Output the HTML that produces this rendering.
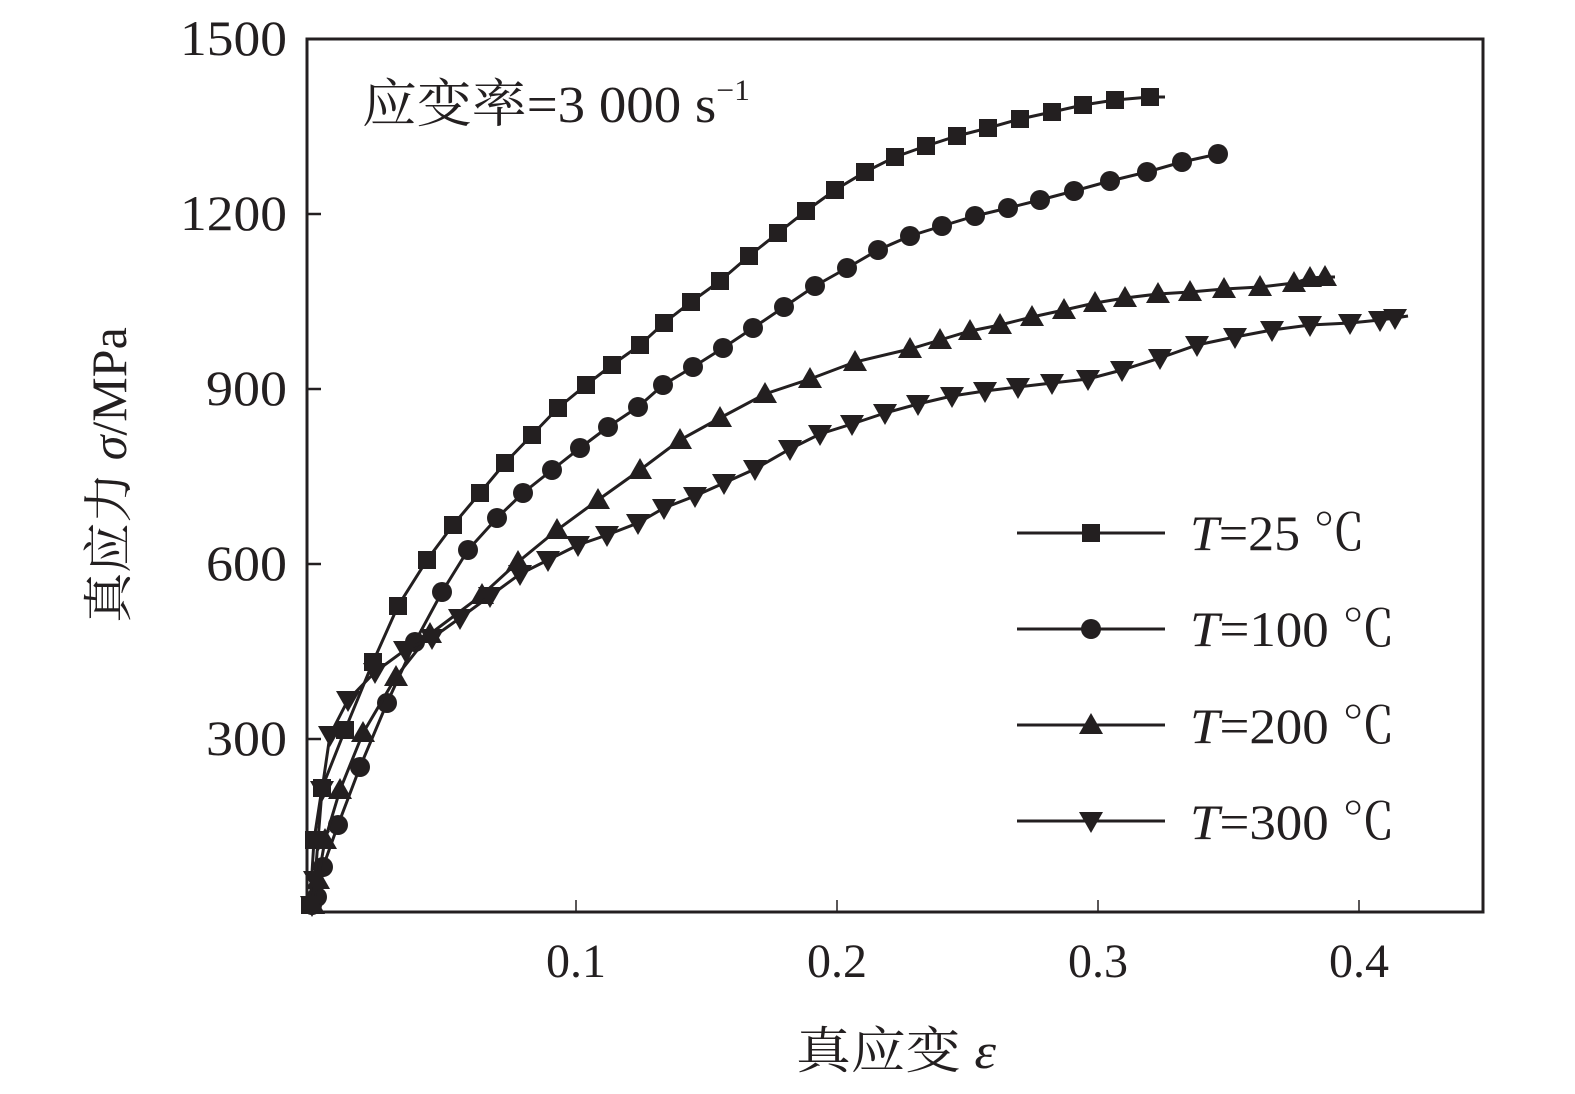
<!DOCTYPE html>
<html><head><meta charset="utf-8"><style>
html,body{margin:0;padding:0;background:#fff;}
svg{display:block;}
text{font-family:"Liberation Serif","Noto Serif CJK SC",serif;fill:#231f20;}
</style></head><body>
<svg id="s" width="1575" height="1094" viewBox="0 0 1575 1094" xmlns="http://www.w3.org/2000/svg">
<rect x="307" y="39" width="1176" height="873" fill="none" stroke="#231f20" stroke-width="3"/>
<g stroke="#231f20" stroke-width="2.5">
<line x1="307" y1="214" x2="321" y2="214"/><line x1="307" y1="389" x2="321" y2="389"/>
<line x1="307" y1="564" x2="321" y2="564"/><line x1="307" y1="739" x2="321" y2="739"/>
</g>
<g stroke="#231f20" stroke-width="1.5">
<line x1="576" y1="912" x2="576" y2="900"/><line x1="837" y1="912" x2="837" y2="900"/>
<line x1="1098" y1="912" x2="1098" y2="900"/><line x1="1359" y1="912" x2="1359" y2="900"/>
</g>
<g font-size="50" lengthAdjust="spacingAndGlyphs">
<text x="180" y="55" textLength="107" lengthAdjust="spacingAndGlyphs">1500</text>
<text x="180" y="230" textLength="107" lengthAdjust="spacingAndGlyphs">1200</text>
<text x="206" y="405" textLength="81" lengthAdjust="spacingAndGlyphs">900</text>
<text x="206" y="580" textLength="81" lengthAdjust="spacingAndGlyphs">600</text>
<text x="206" y="755" textLength="81" lengthAdjust="spacingAndGlyphs">300</text>
</g>
<g font-size="48" text-anchor="middle">
<text x="576" y="977">0.1</text><text x="837" y="977">0.2</text>
<text x="1098" y="977">0.3</text><text x="1359" y="977">0.4</text>
</g>
<text x="796" y="1068" font-size="50" textLength="200" lengthAdjust="spacingAndGlyphs">真应变 <tspan font-style="italic">ε</tspan></text>
<text transform="translate(126,475) rotate(-90)" font-size="50" text-anchor="middle">真应力 <tspan font-style="italic">σ</tspan>/MPa</text>
<text x="362" y="122" font-size="52" textLength="388" lengthAdjust="spacingAndGlyphs">应变率=3 000 s<tspan font-size="30" dy="-22">−1</tspan></text>
<g id="series"></g>
<g id="leg"></g>
<g font-size="50">
<text x="1190" y="550" textLength="175" lengthAdjust="spacingAndGlyphs"><tspan font-style="italic">T</tspan>=25 ℃</text>
<text x="1190" y="646" textLength="205" lengthAdjust="spacingAndGlyphs"><tspan font-style="italic">T</tspan>=100 ℃</text>
<text x="1190" y="743" textLength="205" lengthAdjust="spacingAndGlyphs"><tspan font-style="italic">T</tspan>=200 ℃</text>
<text x="1190" y="839" textLength="205" lengthAdjust="spacingAndGlyphs"><tspan font-style="italic">T</tspan>=300 ℃</text>
</g>
</svg>
<script>
var NS="http://www.w3.org/2000/svg";
var S=[
["sq",[[310,905],[314,840],[322,788],[345,730],[373,662],[398,606],[427,560],[453,525],[480,493],[505,463],[532,435],[558,408],[586,385],[612,365],[640,345],[664,323],[691,302],[720,281],[749,256],[778,233],[806,211],[835,190],[865,172],[895,157],[926,146],[957,136],[988,128],[1020,119],[1052,112],[1083,105],[1115,100],[1150,97],[1165,97]]],
["ci",[[312,905],[317,897],[323,867],[338,825],[360,767],[387,703],[415,642],[442,592],[468,550],[497,518],[523,493],[552,470],[580,448],[608,427],[638,407],[663,385],[693,367],[723,348],[753,328],[784,307],[815,286],[847,268],[878,250],[910,236],[942,226],[975,216],[1008,208],[1040,200],[1074,191],[1110,181],[1147,172],[1182,162],[1218,154]]],
["tu",[[313,905],[318,880],[325,840],[340,790],[363,733],[396,677],[430,634],[482,595],[518,562],[557,530],[598,500],[640,470],[680,440],[720,418],[765,394],[810,379],[855,362],[910,349],[940,340],[970,331],[1000,325],[1032,317],[1064,310],[1095,303],[1125,298],[1158,294],[1190,292],[1224,289],[1260,287],[1294,283],[1310,278],[1325,277],[1335,277]]],
["td",[[312,905],[315,880],[318,840],[322,790],[330,735],[348,700],[375,672],[405,650],[432,638],[460,618],[490,596],[520,574],[548,560],[578,545],[607,535],[638,523],[664,508],[695,496],[724,483],[755,469],[790,449],[820,434],[852,424],[885,413],[918,404],[952,396],[985,391],[1018,387],[1052,383],[1088,379],[1122,370],[1160,358],[1197,345],[1235,337],[1272,330],[1310,325],[1350,323],[1380,320],[1395,318],[1408,316]]]
];
var g=document.getElementById("series");
function mk(t,x,y,p){var e;
 if(t=="sq"){e=document.createElementNS(NS,"rect");e.setAttribute("x",x-9);e.setAttribute("y",y-9);e.setAttribute("width",18);e.setAttribute("height",18);}
 else if(t=="ci"){e=document.createElementNS(NS,"circle");e.setAttribute("cx",x);e.setAttribute("cy",y);e.setAttribute("r",10);}
 else if(t=="tu"){e=document.createElementNS(NS,"polygon");e.setAttribute("points",(x-12)+","+(y+9)+" "+(x+12)+","+(y+9)+" "+x+","+(y-12));}
 else {e=document.createElementNS(NS,"polygon");e.setAttribute("points",(x-12)+","+(y-9)+" "+(x+12)+","+(y-9)+" "+x+","+(y+12));}
 e.setAttribute("fill","#231f20");p.appendChild(e);}
S.forEach(function(s){
 var pl=document.createElementNS(NS,"polyline");
 pl.setAttribute("points",s[1].map(function(p){return p.join(",")}).join(" "));
 pl.setAttribute("fill","none");pl.setAttribute("stroke","#231f20");pl.setAttribute("stroke-width","3");
 g.appendChild(pl);
 s[1].forEach(function(p,i){ if(i<s[1].length-1 || s[0]=="ci") mk(s[0],p[0],p[1],g);});
});
var L=document.getElementById("leg");var ys=[533,629,725,821];
S.forEach(function(s,i){
 var l=document.createElementNS(NS,"line");l.setAttribute("x1",1017);l.setAttribute("x2",1165);l.setAttribute("y1",ys[i]);l.setAttribute("y2",ys[i]);
 l.setAttribute("stroke","#231f20");l.setAttribute("stroke-width","3");L.appendChild(l);
 mk(s[0],1091,ys[i],L);
});
</script>
</body></html>
